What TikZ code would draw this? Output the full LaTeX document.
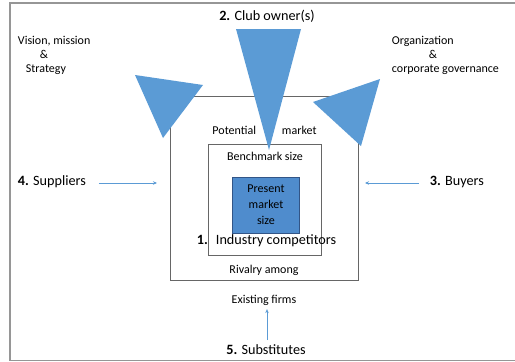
\documentclass[tikz,border=0pt]{standalone}
\usepackage{fontspec}
\setmainfont{Carlito}
\definecolor{wedgeblue}{RGB}{91,155,213}
\definecolor{boxblue}{RGB}{79,140,205}
\definecolor{boxedge}{RGB}{50,85,135}
\definecolor{framegray}{RGB}{150,150,150}
\tikzset{
  small/.style={inner sep=0.75pt, font=\fontsize{12}{14}\selectfont, align=center},
  big/.style={inner sep=0.75pt, font=\fontsize{14.2}{16}\selectfont},
  flow/.style={draw=wedgeblue, line width=0.8pt, -{Stealth[length=4pt,width=3.5pt]}},
}
\usetikzlibrary{arrows.meta}
\begin{document}
\begin{tikzpicture}[x=1pt,y=1pt,yscale=-1]
\useasboundingbox (0,0) rectangle (515,362);

%Frame
\draw [framegray, line width=1.6pt] (515,3) -- (10,3) -- (10,360.5) -- (515,360.5) ;

%Shape: Rectangle [potential market]
\draw [draw=black!60, line width=0.8pt] (170,96) rectangle (358,280) ;
\coordinate (potW) at (170,183) ;
\coordinate (potE) at (358,183) ;
%Shape: Rectangle [benchmark]
\draw [draw=black!60, line width=0.8pt] (208,144) rectangle (321,255) ;
%Shape: Rectangle [present market]
\draw [fill=boxblue, draw=boxedge, line width=0.8pt] (232,177) rectangle (299,233) ;

%Shape: Triangle [vision]
\fill [wedgeblue] (135,75) -- (203,85) -- (163,138) -- cycle ;
%Shape: Triangle [club owners]
\fill [wedgeblue] (236,29) -- (301,29) -- (269,150) -- cycle ;
%Shape: Triangle [organization]
\fill [wedgeblue] (313,102) -- (380,79) -- (361,146) -- cycle ;

% Text Node
\node [big] (owner) at (267,16) {\textbf{2.} Club owner(s)};
\node [small, align=left, anchor=north west] (vision) at (17,35) {Vision, mission\\\hspace*{22pt}\&\\\hspace*{8pt}Strategy};
\node [small, align=left, anchor=north west] (organ) at (391,35) {Organization\\\hspace*{37pt}\&\\corporate governance};
\node [small] (potential) at (264.5,130) {Potential\hspace{26pt}market};
\node [small] (bench) at (265,156) {Benchmark size};
\node [small] (present) at (266,205) {Present\\[2pt]market\\[2pt]size};
\node [big, anchor=west] (industry) at (196,241) {\textbf{1.}\hspace{8pt}Industry competitors};
\node [small] (rivalry) at (264,270) {Rivalry among};
\node [small] (existing) at (264,300) {Existing firms};
\node [big, anchor=west] (suppliers) at (17,182) {\textbf{4.} Suppliers};
\node [big, anchor=west] (buyers) at (429,182) {\textbf{3.} Buyers};
\node [big] (subst) at (266,350) {\textbf{5.} Substitutes};

%Arrows
\draw [flow, shorten <=12pt, shorten >=13pt] (suppliers.east |- potW) -- (potW) ;
\draw [flow, shorten <=10pt, shorten >=7pt] (buyers.west |- potE) -- (potE) ;
\draw [flow, shorten <=4pt, shorten >=3pt] ([xshift=3pt]existing.south |- subst.north) -- ([xshift=3pt]existing.south) ;

\end{tikzpicture}
\end{document}
